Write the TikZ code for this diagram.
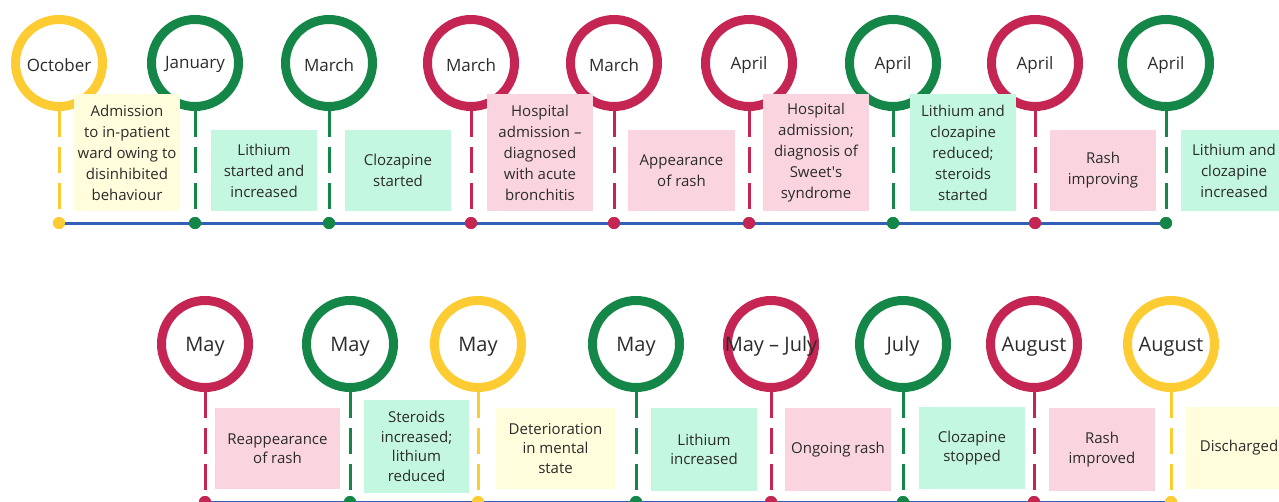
\documentclass[tikz,border=0pt]{standalone}
\usepackage{fontspec}
\setmainfont{Open Sans}
\definecolor{yel}{HTML}{FDCC33}
\definecolor{grn}{HTML}{148647}
\definecolor{red}{HTML}{C42552}
\definecolor{axisblue}{HTML}{3260B6}
\definecolor{byel}{HTML}{FFFDDC}
\definecolor{bgrn}{HTML}{C4F7E0}
\definecolor{bred}{HTML}{FAD5E0}
\definecolor{txt}{HTML}{2B2B2B}
\tikzset{
  ring/.style={circle, draw=#1, line width=9pt, minimum size=87pt, inner sep=0pt},
  monthA/.style={font=\fontsize{17}{20}\selectfont, text=txt, inner sep=0pt, anchor=base},
  monthB/.style={font=\fontsize{20}{24}\selectfont, text=txt, inner sep=0pt, anchor=base},
  evbox/.style={fill=#1, inner sep=0pt, outer sep=0pt, anchor=north west, align=center, text=txt},
  topbox/.style={evbox=#1, font=\fontsize{15}{21}\selectfont, minimum width=106pt},
  botbox/.style={evbox=#1, font=\fontsize{15}{19.5}\selectfont},
  stem/.style={draw=#1, line width=3pt, dash pattern=on 26pt off 10pt},
  dot/.style={circle, fill=#1, inner sep=0pt, minimum size=12pt},
  axis/.style={draw=axisblue, line width=3pt}
}
\begin{document}
\begin{tikzpicture}[x=1pt,y=-1pt]
\useasboundingbox (0,0) rectangle (1279,501);
\begin{scope}
\clip (0,0) rectangle (1279,501);
% ---------- top row ----------
\node[ring=yel] (t1) at (59,63) {};
\node[ring=grn] (t2) at (195,63) {};
\node[ring=grn] (t3) at (329,63) {};
\node[ring=red] (t4) at (471,63) {};
\node[ring=red] (t5) at (614,63) {};
\node[ring=red] (t6) at (749,63) {};
\node[ring=grn] (t7) at (893,63) {};
\node[ring=red] (t8) at (1035,63) {};
\node[ring=grn] (t9) at (1166,63) {};
\node[dot=yel] (td1) at (59,223) {};
\node[dot=grn] (td2) at (195,223) {};
\node[dot=grn] (td3) at (329,223) {};
\node[dot=red] (td4) at (471,223) {};
\node[dot=red] (td5) at (614,223) {};
\node[dot=red] (td6) at (749,223) {};
\node[dot=grn] (td7) at (893,223) {};
\node[dot=red] (td8) at (1035,223) {};
\node[dot=grn] (td9) at (1166,223) {};
\draw[axis] (td1.center) -- (td9.center);
\draw[stem=yel] (t1) -- (td1);
\draw[stem=grn] (t2) -- (td2);
\draw[stem=grn] (t3) -- (td3);
\draw[stem=red] (t4) -- (td4);
\draw[stem=red] (t5) -- (td5);
\draw[stem=red] (t6) -- (td6);
\draw[stem=grn] (t7) -- (td7);
\draw[stem=red] (t8) -- (td8);
\draw[stem=grn] (t9) -- (td9);
\node[dot=yel] (td1b) at (td1) {};
\node[dot=grn] (td2b) at (td2) {};
\node[dot=grn] (td3b) at (td3) {};
\node[dot=red] (td4b) at (td4) {};
\node[dot=red] (td5b) at (td5) {};
\node[dot=red] (td6b) at (td6) {};
\node[dot=grn] (td7b) at (td7) {};
\node[dot=red] (td8b) at (td8) {};
\node[dot=grn] (td9b) at (td9) {};
\node[monthA] (tl1) at (59,71) {October};
\node[monthA] (tl2) at (195,68) {January};
\node[monthA] (tl3) at (329,71) {March};
\node[monthA] (tl4) at (471,71) {March};
\node[monthA] (tl5) at (614,71) {March};
\node[monthA] (tl6) at (749,69) {April};
\node[monthA] (tl7) at (893,69) {April};
\node[monthA] (tl8) at (1035,69) {April};
\node[monthA] (tl9) at (1166,69) {April};
\node[topbox=byel, minimum height=117pt] (tb1) at (74,94) {Admission\\to in-patient\\ward owing to\\disinhibited\\behaviour};
\node[topbox=bgrn, minimum height=81pt] (tb2) at (211,130) {Lithium\\started and\\increased};
\node[topbox=bgrn, minimum height=81pt] (tb3) at (345,130) {Clozapine\\started};
\node[topbox=bred, minimum height=117pt] (tb4) at (487,94) {Hospital\\admission –\\diagnosed\\with acute\\bronchitis};
\node[topbox=bred, minimum height=81pt, minimum width=107pt] (tb5) at (628,130) {Appearance\\of rash};
\node[topbox=bred, minimum height=117pt] (tb6) at (763,94) {Hospital\\admission;\\diagnosis of\\Sweet\textquotesingle s\\syndrome};
\node[topbox=bgrn, minimum height=117pt] (tb7) at (910,94) {Lithium and\\clozapine\\reduced;\\steroids\\started};
\node[topbox=bred, minimum height=81pt] (tb8) at (1050,130) {Rash\\improving};
\node[topbox=bgrn, minimum height=81pt] (tb9) at (1181,130) {Lithium and\\clozapine\\increased};
% ---------- bottom row ----------
\node[ring=red] (b1) at (205,344) {};
\node[ring=grn] (b2) at (350,344) {};
\node[ring=yel] (b3) at (478,344) {};
\node[ring=grn] (b4) at (636,344) {};
\node[ring=red] (b5) at (771,344) {};
\node[ring=grn] (b6) at (903,344) {};
\node[ring=red] (b7) at (1034,344) {};
\node[ring=yel] (b8) at (1171,344) {};
\node[dot=red] (bd1) at (205,502) {};
\node[dot=grn] (bd2) at (350,502) {};
\node[dot=yel] (bd3) at (478,502) {};
\node[dot=grn] (bd4) at (636,502) {};
\node[dot=red] (bd5) at (771,502) {};
\node[dot=grn] (bd6) at (903,502) {};
\node[dot=red] (bd7) at (1034,502) {};
\node[dot=yel] (bd8) at (1171,502) {};
\draw[axis] (bd1.center) -- (bd8.center);
\draw[stem=red] (b1) -- (bd1);
\draw[stem=grn] (b2) -- (bd2);
\draw[stem=yel] (b3) -- (bd3);
\draw[stem=grn] (b4) -- (bd4);
\draw[stem=red] (b5) -- (bd5);
\draw[stem=grn] (b6) -- (bd6);
\draw[stem=red] (b7) -- (bd7);
\draw[stem=yel] (b8) -- (bd8);
\node[dot=red] (bd1b) at (bd1) {};
\node[dot=grn] (bd2b) at (bd2) {};
\node[dot=yel] (bd3b) at (bd3) {};
\node[dot=grn] (bd4b) at (bd4) {};
\node[dot=red] (bd5b) at (bd5) {};
\node[dot=grn] (bd6b) at (bd6) {};
\node[dot=red] (bd7b) at (bd7) {};
\node[dot=yel] (bd8b) at (bd8) {};
\node[monthB] (bl1) at (205,351) {May};
\node[monthB] (bl2) at (350,351) {May};
\node[monthB] (bl3) at (478,351) {May};
\node[monthB] (bl4) at (636,351) {May};
\node[monthB] (bl5) at (771,351) {May – July};
\node[monthB] (bl6) at (903,351) {July};
\node[monthB] (bl7) at (1034,351) {August};
\node[monthB] (bl8) at (1171,351) {August};
\node[botbox=bred, minimum width=125pt, minimum height=81pt] (bb1) at (215,408) {Reappearance\\of rash};
\node[botbox=bgrn, minimum width=105pt, minimum height=93pt] (bb2) at (364,400) {Steroids\\increased;\\lithium\\reduced};
\node[botbox=byel, minimum width=119pt, minimum height=81pt] (bb3) at (496,408) {Deterioration\\in mental\\state};
\node[botbox=bgrn, minimum width=106pt, minimum height=83pt] (bb4) at (651,408) {Lithium\\increased};
\node[botbox=bred, minimum width=106pt, minimum height=83pt] (bb5) at (785,408) {Ongoing rash};
\node[botbox=bgrn, minimum width=106pt, minimum height=82pt] (bb6) at (919,407) {Clozapine\\stopped};
\node[botbox=bred, minimum width=106pt, minimum height=83pt] (bb7) at (1049,408) {Rash\\improved};
\node[botbox=byel, minimum width=106pt, minimum height=82pt] (bb8) at (1186,407) {Discharged};
\end{scope}
\end{tikzpicture}
\end{document}
